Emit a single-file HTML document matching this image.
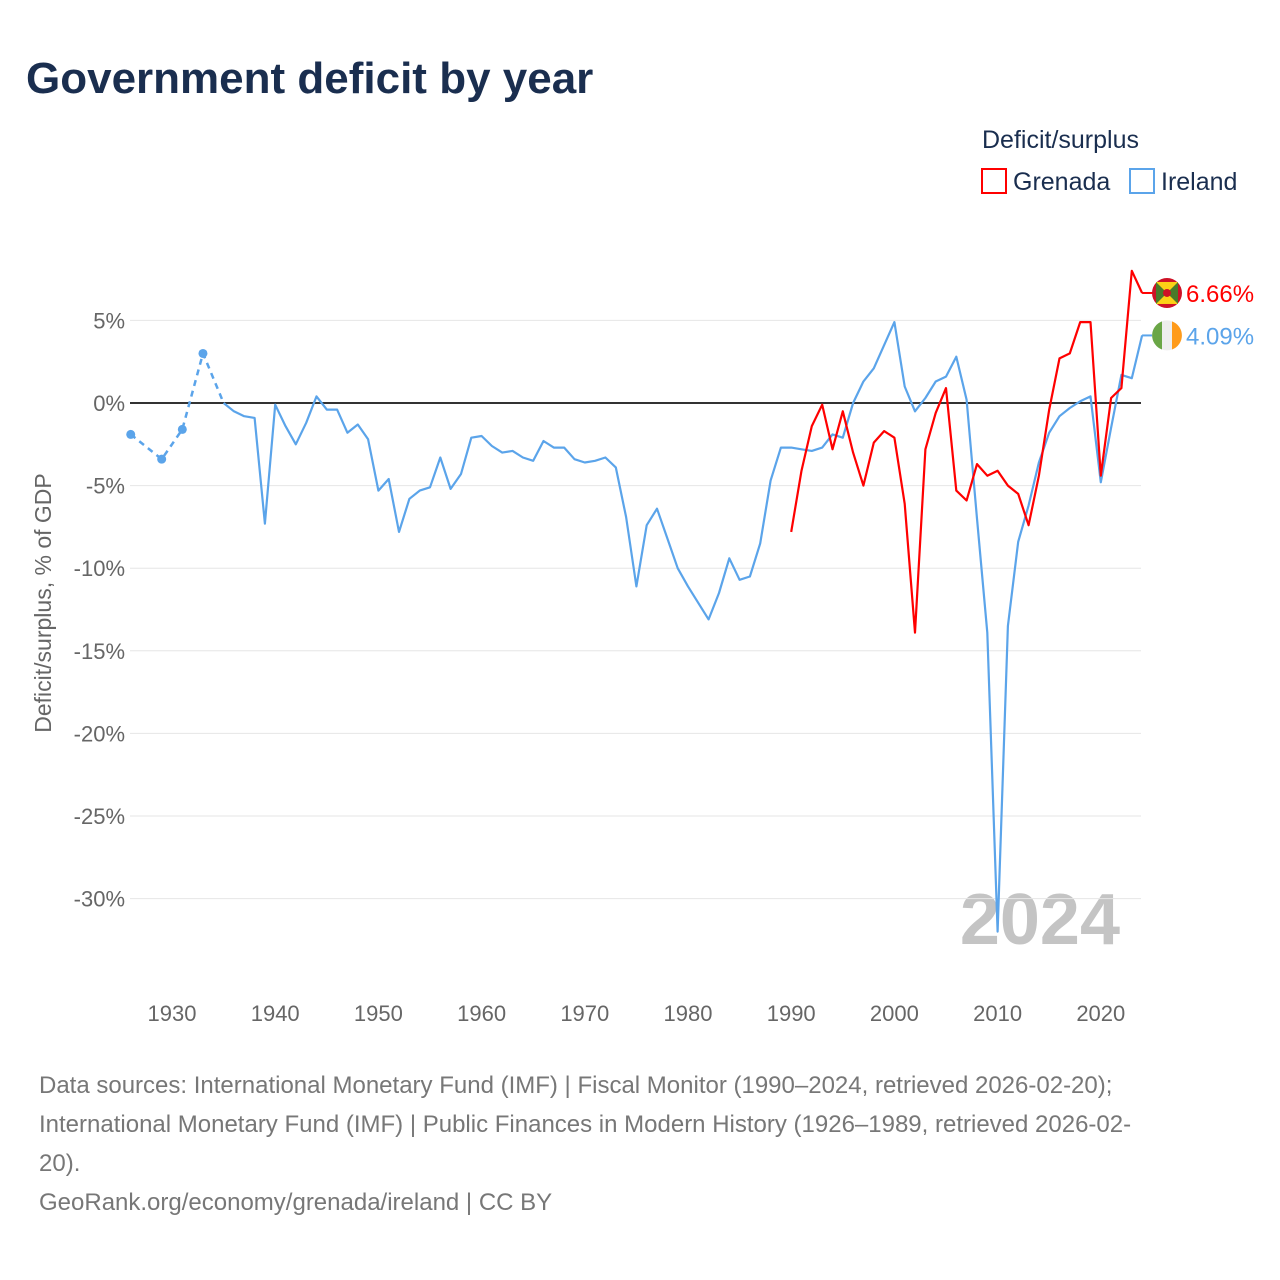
<!DOCTYPE html>
<html><head><meta charset="utf-8">
<style>
body{margin:0;background:#fff;font-family:"Liberation Sans",sans-serif;}
#wrap{position:relative;width:1280px;height:1280px;overflow:hidden;}
</style></head>
<body>
<div id="wrap">
<svg id="chart" width="1280" height="1280">
<text x="26" y="93" font-size="44" font-weight="bold" fill="#1a2e4f">Government deficit by year</text>
<g>
<text x="982" y="148" font-size="25" fill="#1a2e4f">Deficit/surplus</text>
<rect x="982" y="169" width="24" height="24" fill="none" stroke="#ff0000" stroke-width="2"/>
<text x="1013" y="190" font-size="25" fill="#1a2e4f">Grenada</text>
<rect x="1130" y="169" width="24" height="24" fill="none" stroke="#5ba4ea" stroke-width="2"/>
<text x="1161" y="190" font-size="25" fill="#1a2e4f">Ireland</text>
</g>
<text transform="translate(51,603) rotate(-90)" text-anchor="middle" font-size="23" fill="#666">Deficit/surplus, % of GDP</text>
<text x="1120" y="944" text-anchor="end" font-size="72" font-weight="bold" fill="#c4c4c4">2024</text>
<g id="grid"></g><g id="series"></g>
<g font-size="24" fill="#777">
<text x="39" y="1093">Data sources: International Monetary Fund (IMF) | Fiscal Monitor (1990–2024, retrieved 2026-02-20);</text>
<text x="39" y="1132">International Monetary Fund (IMF) | Public Finances in Modern History (1926–1989, retrieved 2026-02-</text>
<text x="39" y="1171">20).</text>
<text x="39" y="1210">GeoRank.org/economy/grenada/ireland | CC BY</text>
</g>
</svg>
</div>
<script>
const yTicks=[5,0,-5,-10,-15,-20,-25,-30];
const xTicks=[1930,1940,1950,1960,1970,1980,1990,2000,2010,2020];
const irelandSparseYears=[1926,1929,1931,1933,1935];
const irelandSparseVals=[-1.9,-3.4,-1.6,3.0,0.0];
const irelandYears=[1935,1936,1937,1938,1939,1940,1941,1942,1943,1944,1945,1946,1947,1948,1949,1950,1951,1952,1953,1954,1955,1956,1957,1958,1959,1960,1961,1962,1963,1964,1965,1966,1967,1968,1969,1970,1971,1972,1973,1974,1975,1976,1977,1978,1979,1980,1981,1982,1983,1984,1985,1986,1987,1988,1989,1990,1991,1992,1993,1994,1995,1996,1997,1998,1999,2000,2001,2002,2003,2004,2005,2006,2007,2008,2009,2010,2011,2012,2013,2014,2015,2016,2017,2018,2019,2020,2021,2022,2023,2024];
const irelandVals=[0.0,-0.5,-0.8,-0.9,-7.3,-0.1,-1.4,-2.5,-1.2,0.4,
-0.4,-0.4,-1.8,-1.3,-2.2,-5.3,-4.6,-7.8,-5.8,-5.3,
-5.1,-3.3,-5.2,-4.3,-2.1,-2.0,-2.6,-3.0,-2.9,-3.3,
-3.5,-2.3,-2.7,-2.7,-3.4,-3.6,-3.5,-3.3,-3.9,-6.9,
-11.1,-7.4,-6.4,-8.2,-10.0,-11.1,-12.1,-13.1,-11.5,-9.4,
-10.7,-10.5,-8.5,-4.7,-2.7,-2.7,-2.8,-2.9,-2.7,-1.9,
-2.1,0.0,1.3,2.1,3.5,4.9,1.0,-0.5,0.3,1.3,
1.6,2.8,0.2,-7.0,-13.9,-32.0,-13.5,-8.4,-6.2,-3.6,
-1.8,-0.8,-0.3,0.1,0.4,-4.8,-1.5,1.7,1.5,4.09];
const grenadaYears=[1990,1991,1992,1993,1994,1995,1996,1997,1998,1999,2000,2001,2002,2003,2004,2005,2006,2007,2008,2009,2010,2011,2012,2013,2014,2015,2016,2017,2018,2019,2020,2021,2022,2023,2024];
const grenadaVals=[-7.8,-4.1,-1.4,-0.1,-2.8,-0.5,-3.0,-5.0,-2.4,-1.7,-2.1,-6.1,-13.9,-2.8,-0.6,0.9,-5.3,-5.9,-3.7,-4.4,-4.1,-5.0,-5.5,-7.4,-4.4,-0.4,2.7,3.0,4.9,4.9,-4.4,0.3,0.9,8.0,6.66];

const NS='http://www.w3.org/2000/svg';
const X=y=>172+(y-1930)*10.32;
const Y=v=>403-v*16.52;
function mk(tag,attrs,parent){const e=document.createElementNS(NS,tag);for(const k in attrs)e.setAttribute(k,attrs[k]);parent.appendChild(e);return e;}
const grid=document.getElementById('grid'),ser=document.getElementById('series');
yTicks.forEach(t=>{
  const l=mk('line',{x1:130,x2:1141,y1:Y(t),y2:Y(t),stroke:t===0?'#333':'#e6e6e6','stroke-width':t===0?2:1},grid);
  
  
  const tx=mk('text',{x:125,y:Y(t)+8,'text-anchor':'end','font-size':22,fill:'#666'},grid);
  tx.textContent=t+'%';
  
  
});
xTicks.forEach(t=>{
  const tx=mk('text',{x:X(t),y:1021,'text-anchor':'middle','font-size':22,fill:'#666'},grid);
  tx.textContent=t;
  
  
});
const pts=(ys,vs)=>ys.map((y,i)=>X(y).toFixed(1)+','+Y(vs[i]).toFixed(1)).join(' ');
const d=mk('polyline',{points:pts(irelandSparseYears,irelandSparseVals),fill:'none',stroke:'#5ba4ea','stroke-width':2.5,'stroke-dasharray':'6,5'},ser);


irelandSparseYears.slice(0,4).forEach((y,i)=>{
  const c=mk('circle',{cx:X(y),cy:Y(irelandSparseVals[i]),r:4.5,fill:'#5ba4ea'},ser);
  
  
});
const li=mk('polyline',{points:pts(irelandYears,irelandVals),fill:'none',stroke:'#5ba4ea','stroke-width':2.2,'stroke-linejoin':'round'},ser);


const lg=mk('polyline',{points:pts(grenadaYears,grenadaVals),fill:'none',stroke:'#ff0000','stroke-width':2.2,'stroke-linejoin':'round'},ser);


const gy=Y(grenadaVals[grenadaVals.length-1]), iy=Y(irelandVals[irelandVals.length-1]);
const lastX=X(2024);
const c1=mk('line',{x1:lastX,x2:1155,y1:gy,y2:gy,stroke:'#ff0000','stroke-width':2},ser);


const c2=mk('line',{x1:lastX,x2:1155,y1:iy,y2:iy,stroke:'#5ba4ea','stroke-width':2},ser);


const g1=mk('g',{},ser);


mk('circle',{cx:1167,cy:gy,r:15,fill:'#ce1126'},g1);
mk('rect',{x:1156,y:gy-11,width:22,height:22,fill:'#fcd116'},g1);
mk('polygon',{points:`1156,${gy-11} 1167,${gy} 1156,${gy+11}`,fill:'#4a7a2a'},g1);
mk('polygon',{points:`1178,${gy-11} 1167,${gy} 1178,${gy+11}`,fill:'#4a7a2a'},g1);
mk('circle',{cx:1167,cy:gy,r:4,fill:'#ce1126'},g1);
const t1=mk('text',{x:1186,y:gy+9,'font-size':24,fill:'#ff0000'},ser);
t1.textContent='6.66%';


const g2=mk('g',{},ser);


mk('circle',{cx:1167,cy:iy,r:15,fill:'#eeeeee'},g2);
mk('path',{d:`M1162,${iy-14.1} A15,15 0 0 0 1162,${iy+14.1} Z`,fill:'#6aa646'},g2);
mk('path',{d:`M1172,${iy-14.1} A15,15 0 0 1 1172,${iy+14.1} Z`,fill:'#ff9b1a'},g2);
const t2=mk('text',{x:1186,y:iy+9,'font-size':24,fill:'#5ba4ea'},ser);
t2.textContent='4.09%';


</script>
</body></html>
